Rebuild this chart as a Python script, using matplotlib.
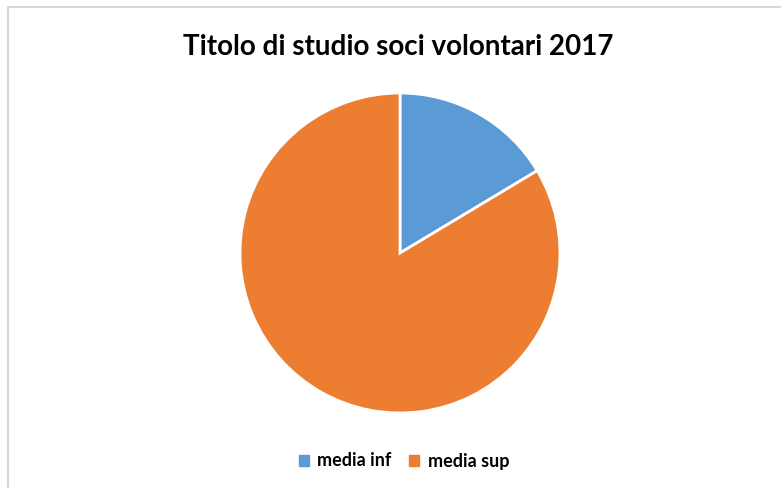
import matplotlib.pyplot as plt
from matplotlib.patches import Rectangle

labels = ['media inf', 'media sup']
values = [16.4, 83.6]
colors = ['#5B9BD5', '#ED7D31']

W, H = 781, 488
fig = plt.figure(figsize=(W / 100, H / 100), dpi=100)
fig.patch.set_facecolor('white')

# chart frame (clipped at right and bottom)
fig.patches.append(Rectangle((8 / W, -0.05), 1.1, 1 - 7 / H + 0.05, transform=fig.transFigure,
                             fill=False, edgecolor='#D9D9D9', linewidth=1.5))

cx, cy, r = 400, 253, 160
ax = fig.add_axes([(cx - r) / W, (H - cy - r) / H, 2 * r / W, 2 * r / H])
ax.pie(values, colors=colors, startangle=90, counterclock=False, radius=1,
       wedgeprops=dict(edgecolor='white', linewidth=2))
ax.set_xlim(-1, 1)
ax.set_ylim(-1, 1)
ax.set_aspect('equal')

fig.text(398 / W, 1 - 47 / H, 'Titolo di studio soci volontari 2017', ha='center', va='center',
         fontsize=20, fontweight='bold', family='Lato', color='#000000')

handles = [Rectangle((0, 0), 1, 1, color=c) for c in colors]
fig.legend(handles, labels, loc='center', bbox_to_anchor=(404 / W, 1 - 461 / H), ncol=2,
           frameon=False, handlelength=0.55, handleheight=0.55, handletextpad=0.45, columnspacing=1.0,
           prop=dict(family='Lato', weight='bold', size=13))

fig.savefig('out.png', dpi=100)
